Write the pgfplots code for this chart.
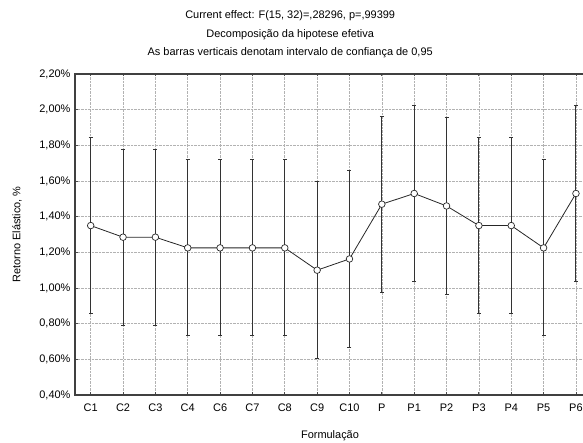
\documentclass[border=0pt]{standalone}
\usepackage{fontspec}
\setmainfont{Liberation Sans}
\usepackage{pgfplots}
\pgfplotsset{compat=1.18}
\usetikzlibrary{calc}
\begin{document}
\begin{tikzpicture}
\begin{axis}[
  name=ax,
  scale only axis,
  width=510bp, height=321bp,
  xmin=-0.485, xmax=15.28,
  ymin=0.4, ymax=2.2,
  xtick={0,...,15},
  xticklabels={C1,C2,C3,C4,C6,C7,C8,C9,C10,P,P1,P2,P3,P4,P5,P6},
  ytick={0.4,0.6,...,2.21},
  yticklabel={\pgfmathprintnumber[fixed,fixed zerofill,precision=2,use comma]{\tick}\%},
  /pgf/number format/assume math mode=true,
  tick label style={font=\fontsize{11}{13}\selectfont, text=black},
  xticklabel style={yshift=-5bp},
  yticklabel style={xshift=-1bp},
  tick align=inside,
  major tick length=2.5bp,
  tick style={black!70, line width=0.8pt},
  xtick pos=both,
  ytick pos=left,
  grid=major,
  major grid style={densely dotted, black!30, line width=0.6pt},
  axis line style={black!75, line width=1.4pt},
]
\addplot[black!85, line width=0.8pt,
  mark=*, mark size=3.3bp, mark options={fill=white, line width=0.7pt, draw=black!85},
  error bars/.cd, y dir=both, y explicit,
  error bar style={black!80, line width=1pt},
  error mark options={rotate=90, mark size=2bp, line width=1pt, black!80}]
coordinates {
(0,1.350) +- (0,0.493)
(1,1.285) +- (0,0.494)
(2,1.285) +- (0,0.494)
(3,1.225) +- (0,0.494)
(4,1.225) +- (0,0.494)
(5,1.225) +- (0,0.494)
(6,1.225) +- (0,0.494)
(7,1.100) +- (0,0.495)
(8,1.163) +- (0,0.494)
(9,1.470) +- (0,0.494)
(10,1.530) +- (0,0.494)
(11,1.460) +- (0,0.494)
(12,1.350) +- (0,0.493)
(13,1.350) +- (0,0.493)
(14,1.225) +- (0,0.494)
(15,1.530) +- (0,0.494)
};
\end{axis}
\coordinate (tc) at ($(ax.north west)!0.422!(ax.north east)$);
\node[font=\fontsize{11}{13}\selectfont, anchor=base] at ($(tc)+(0,55bp)$) {Current effect: F(15, 32)=,28296, p=,99399};
\node[font=\fontsize{11}{13}\selectfont, anchor=base] at ($(tc)+(0,36.5bp)$) {Decomposição da hipotese efetiva};
\node[font=\fontsize{11}{13}\selectfont, anchor=base] at ($(tc)+(0,18bp)$) {As barras verticais denotam intervalo de confiança de 0,95};
\node[font=\fontsize{11}{13}\selectfont, rotate=90, anchor=center] at ($(ax.west)+(-58bp,0)$) {Retorno Elástico, \%};
\node[font=\fontsize{11}{13}\selectfont, anchor=center] at ($(ax.south west)!0.5!(ax.south east)+(0,-41bp)$) {Formulação};
\pgfresetboundingbox
\path[use as bounding box] ($(ax.south west)+(-75bp,-48bp)$) rectangle ($(ax.north east)+(-2bp,74bp)$);
\end{tikzpicture}
\end{document}
